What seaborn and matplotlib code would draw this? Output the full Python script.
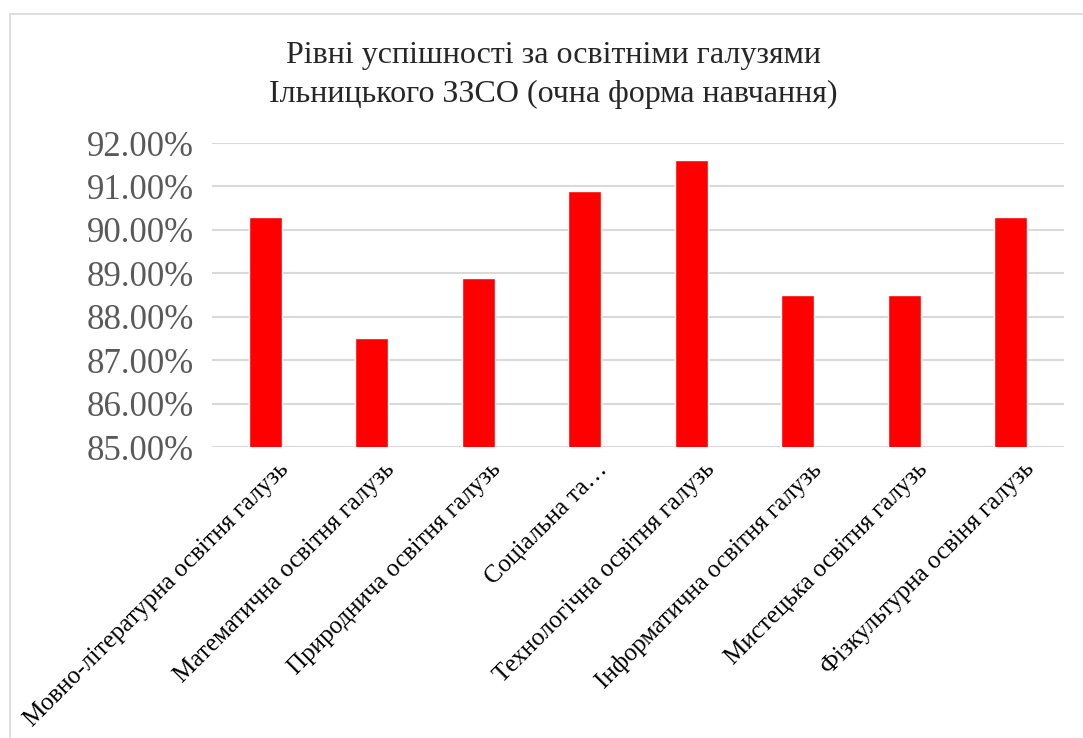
import pandas as pd
import matplotlib
matplotlib.use("Agg")
import matplotlib.pyplot as plt
import matplotlib.transforms as mtransforms
import seaborn as sns
from matplotlib.patches import Rectangle
from matplotlib.ticker import FuncFormatter

# дані з діаграми
galuzi = [
    "Мовно-літературна освітня галузь",
    "Математична освітня галузь",
    "Природнича освітня галузь",
    "Соціальна та…",
    "Технологічна освітня галузь",
    "Інформатична освітня галузь",
    "Мистецька освітня галузь",
    "Фізкультурна освіня галузь",
]
uspishnist = [90.3, 87.5, 88.9, 90.9, 91.6, 88.5, 88.5, 90.3]

df = pd.DataFrame({"galuz": galuzi, "uspishnist": uspishnist})

sns.set_style("white")
plt.rcParams["font.family"] = ["Liberation Serif", "DejaVu Serif"]

fig = plt.figure(figsize=(10.83, 7.38), dpi=100)
ax = fig.add_axes([212 / 1083, 1 - 447 / 738, (1064 - 212) / 1083, (447 - 143) / 738])

sns.barplot(data=df, x="galuz", y="uspishnist", color="#ff0000", width=0.31,
            saturation=1, ax=ax, zorder=3)

ax.set_ylim(85, 92)
ax.set_yticks(range(85, 93))
ax.yaxis.set_major_formatter(FuncFormatter(lambda v, p: f"{v:.2f}%"))
ax.grid(axis="y", color="#d9d9d9", linewidth=1.5, zorder=0)
ax.set_axisbelow(True)
for s in ax.spines.values():
    s.set_visible(False)
ax.tick_params(axis="y", length=0, pad=13, labelsize=25, labelcolor="#595959")
ax.tick_params(axis="x", length=0, pad=8, labelsize=18, labelcolor="black")
zsuv = mtransforms.ScaledTranslation(12 / 100, 0, fig.dpi_scale_trans)
for lbl in ax.get_xticklabels():
    lbl.set_rotation(45)
    lbl.set_ha("right")
    lbl.set_rotation_mode("anchor")
    lbl.set_transform(lbl.get_transform() + zsuv)
ax.set_xlabel("")
ax.set_ylabel("")

fig.text(0.511, 1 - 56 / 738, "Рівні успішності за освітніми галузями",
         ha="center", va="center", fontsize=23)
fig.text(0.511, 1 - 94 / 738, "Ільницького ЗЗСО (очна форма навчання)",
         ha="center", va="center", fontsize=23)

# рамка діаграми
fig.patches.append(Rectangle((10 / 1083, -0.05), 1.2, 1 - 14.5 / 738 + 0.05,
                             transform=fig.transFigure, fill=False,
                             edgecolor="#d9d9d9", linewidth=1.2))

fig.savefig("out.png", dpi=100)
